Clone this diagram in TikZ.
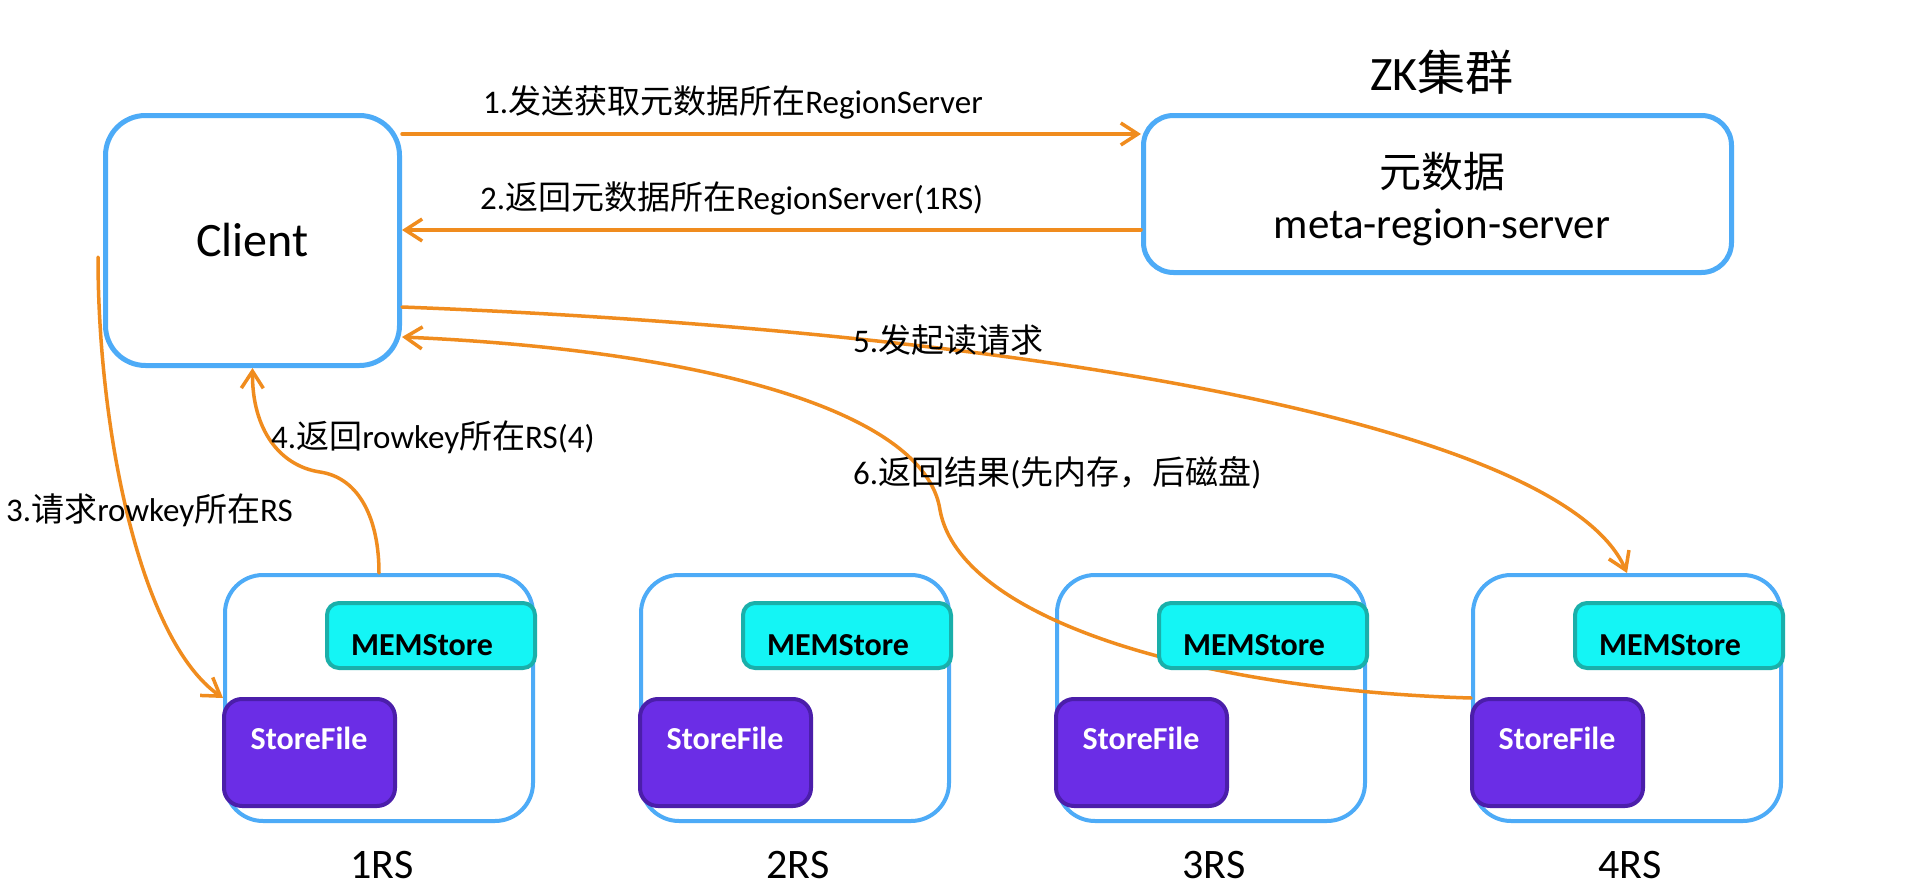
\documentclass[tikz,border=0pt]{standalone}
\usepackage{fontspec}
\setmainfont{Carlito}
\newfontfamily\cjk{Noto Sans CJK SC}
\usetikzlibrary{arrows.meta}
\definecolor{boxblue}{HTML}{4DABF7}
\definecolor{arrorange}{HTML}{F08C1E}
\definecolor{memfill}{HTML}{14F5F5}
\definecolor{memline}{HTML}{1AAFAA}
\definecolor{sffill}{HTML}{6B2DE6}
\definecolor{sfline}{HTML}{4B1EAA}
\begin{document}
\begin{tikzpicture}[x=1pt,y=-1pt,
  bigbox/.style={draw=boxblue, line width=5pt, rounded corners=40pt, fill=white, inner sep=0pt},
  rsbox/.style={draw=boxblue, line width=4pt, rounded corners=38pt, fill=white, minimum width=308pt, minimum height=246pt, inner sep=0pt},
  membox/.style={draw=memline, fill=memfill, line width=4pt, rounded corners=12pt, minimum width=208pt, minimum height=65pt, inner sep=0pt},
  sfbox/.style={draw=sfline, fill=sffill, line width=4pt, rounded corners=18pt, minimum width=171pt, minimum height=107pt, inner sep=0pt},
  flow/.style={draw=arrorange, line width=3.5pt, line cap=round, -{Straight Barb[length=17pt,width=22pt]}},
  lbl/.style={anchor=west, inner sep=0pt, font=\fontsize{33}{40}\selectfont},
  boxtxt/.style={inner sep=0pt, font=\fontsize{32}{38}\selectfont\bfseries},
  rslbl/.style={inner sep=0pt, font=\fontsize{42}{50}\selectfont}
]
\useasboundingbox[fill=white] (0,0) rectangle (1912,891);

% top boxes
\node[bigbox, minimum width=294pt, minimum height=250pt, font=\fontsize{48}{58}\selectfont] (client) at (252.5,240.5) {Client};
\node[bigbox, rounded corners=30pt, minimum width=588pt, minimum height=157pt] (meta) at (1437.5,194) {};
\node[inner sep=0pt, font=\fontsize{42}{50}\selectfont\cjk] (metat1) at (1442,172) {元数据};
\node[inner sep=0pt, font=\fontsize{43}{52}\selectfont] (metat2) at (1442,227) {meta-region-server};
\node[inner sep=0pt, font=\fontsize{48}{58}\selectfont] (zk) at (1442,72) {ZK{\cjk 集群}};

% region servers (outer boxes and names)
\foreach \i/\cx in {1/379,2/795,3/1211,4/1627} {
  \node[rsbox] (rs\i) at (\cx,698) {};
  \node[rslbl] (rsl\i) at (\cx+3,865) {\i RS};
}

% connectors
\coordinate (s3) at (98,257);
\draw[flow] (client.east |- 0,134) -- (meta.west |- 0,134);
\draw[flow] (meta.west |- 0,230) -- (client.east |- 0,230);
\draw[flow] (s3) .. controls (98,430) and (140,640) .. (rs1.west);
\draw[flow] (rs1.north) .. controls (379,520) and (360,478) .. (320,472)
                        .. controls (280,466) and (252,430) .. (client.south);
\draw[flow] (client.east |- 0,307) .. controls (1000,330) and (1560,420) .. (rs4.north);
\draw[flow] (rs4.west) .. controls (1200,690) and (960,620) .. (940,510)
                       .. controls (925,410) and (700,350) .. (client.east |- 0,337);

% stores inside the region servers (drawn above the connectors)
\foreach \i/\cx in {1/379,2/795,3/1211,4/1627} {
  \node[membox] (mem\i) at (\cx+52,635.5) {};
  \node[sfbox] (sf\i) at (\cx-69.5,752.5) {};
  \node[boxtxt] (memt\i) at (\cx+43,645) {MEMStore};
  \node[boxtxt, text=white] (sft\i) at (\cx-70,738) {StoreFile};
}

% labels
\node[lbl] (l1) at (483,102) {1.{\cjk 发送获取元数据所在}RegionServer};
\node[lbl] (l2) at (480,198) {2.{\cjk 返回元数据所在}RegionServer(1RS)};
\node[lbl] (l3) at (6,510) {3.{\cjk 请求}rowkey{\cjk 所在}RS};
\node[lbl] (l4) at (271,437) {4.{\cjk 返回}rowkey{\cjk 所在}RS(4)};
\node[lbl] (l5) at (853,340) {5.{\cjk 发起读请求}};
\node[lbl] (l6) at (853,473) {6.{\cjk 返回结果}({\cjk 先内存，后磁盘})};
\end{tikzpicture}
\end{document}
